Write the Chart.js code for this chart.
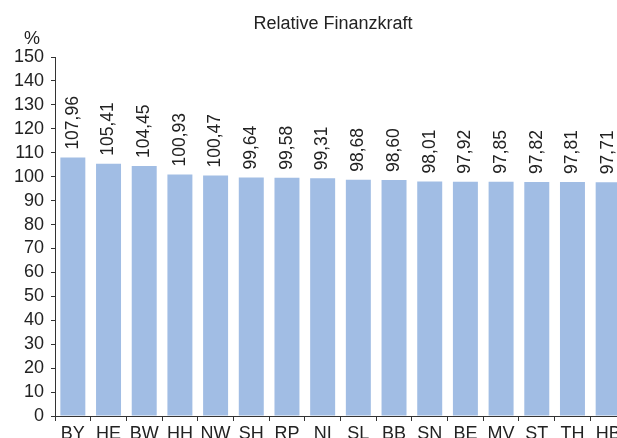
<!DOCTYPE html>
<html>
<head>
<meta charset="utf-8">
<script src="https://cdn.jsdelivr.net/npm/chart.js@4/dist/chart.umd.min.js"></script>
<style>
  html, body { margin: 0; padding: 0; background: #fff; overflow: hidden; }
  #wrap { width: 630px; height: 438px; }
</style>
</head>
<body>
<div id="wrap"><canvas id="finanzChart" width="630" height="438"></canvas></div>
<script>
// Relative Finanzkraft je Land
const laender = ['BY', 'HE', 'BW', 'HH', 'NW', 'SH', 'RP', 'NI', 'SL', 'BB', 'SN', 'BE', 'MV', 'ST', 'TH', 'HB'];
const finanzkraft = [107.96, 105.41, 104.45, 100.93, 100.47, 99.64, 99.58, 99.31, 98.68, 98.60, 98.01, 97.92, 97.85, 97.82, 97.81, 97.71];
const yTicks = [0, 10, 20, 30, 40, 50, 60, 70, 80, 90, 100, 110, 120, 130, 140, 150];

const FONT = "'Liberation Sans', Arial, sans-serif";
const textColor = '#222';

// Werte senkrecht über den Balken
const valueLabels = {
    id: 'valueLabels',
    afterDatasetsDraw(chart) {
        const ctx = chart.ctx;
        const meta = chart.getDatasetMeta(0);
        ctx.save();
        ctx.font = `17.5px ${FONT}`;
        ctx.fillStyle = textColor;
        ctx.textAlign = 'left';
        ctx.textBaseline = 'middle';
        meta.data.forEach((bar, i) => {
            const txt = finanzkraft[i].toFixed(2).replace('.', ',');
            ctx.save();
            ctx.translate(bar.x, bar.y - 8);
            ctx.rotate(-Math.PI / 2);
            ctx.fillText(txt, 0, 0);
            ctx.restore();
        });
        ctx.restore();
    }
};

// Titel und Einheit
const headerText = {
    id: 'headerText',
    afterDraw(chart) {
        const ctx = chart.ctx;
        ctx.save();
        ctx.fillStyle = textColor;
        ctx.textBaseline = 'middle';
        ctx.textAlign = 'center';
        ctx.font = `18px ${FONT}`;
        ctx.fillText('Relative Finanzkraft', 333, 24);
        ctx.fillText('%', 32, 39);
        ctx.restore();
    }
};

new Chart(document.getElementById('finanzChart'), {
    type: 'bar',
    data: {
        labels: laender,
        datasets: [{
            data: finanzkraft,
            backgroundColor: '#a1bde4',
            borderWidth: 0,
            barPercentage: 0.7,
            categoryPercentage: 1.0
        }]
    },
    options: {
        responsive: false,
        animation: false,
        layout: { autoPadding: false, padding: { top: 57, right: 4, left: 0, bottom: 0 } },
        plugins: {
            legend: { display: false },
            title: { display: false },
            tooltip: { enabled: false }
        },
        scales: {
            x: {
                afterFit(scale) { scale.height = 22; },
                border: { display: true, color: '#333', width: 1 },
                grid: { display: true, drawOnChartArea: false, offset: true, tickLength: 5, color: '#333' },
                ticks: { color: textColor, font: { family: FONT, size: 18 }, padding: 2, maxRotation: 0, autoSkip: false }
            },
            y: {
                min: 0,
                max: 150,
                afterFit(scale) { scale.width = 55; },
                afterBuildTicks(scale) { scale.ticks = yTicks.map(v => ({ value: v })); },
                border: { display: true, color: '#333', width: 1 },
                grid: { display: true, drawOnChartArea: false, tickLength: 4, color: '#333' },
                ticks: { color: textColor, font: { family: FONT, size: 18 }, padding: 7, autoSkip: false }
            }
        }
    },
    plugins: [valueLabels, headerText]
});
</script>
</body>
</html>
